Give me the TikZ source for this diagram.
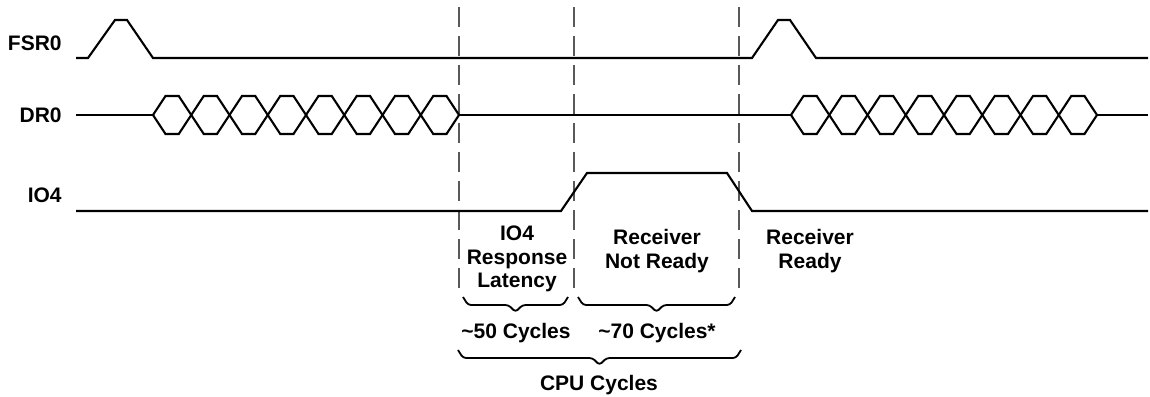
\documentclass[tikz,border=0pt]{standalone}
\usepackage{fontspec}
\setmainfont{Liberation Sans}
\usepackage{tikz}

\begin{document}
\begin{tikzpicture}[x=0.5pt, y=-0.5pt,
    sig/.style={black, line width=1.05pt, line join=miter},
    guide/.style={black!65, line width=0.55pt, dash pattern=on 10pt off 4.5pt},
    lbl/.style={font=\fontsize{10.5}{11.75}\selectfont\bfseries, inner sep=0pt, align=center}]
            % Marco
            \useasboundingbox (0,0) rectangle (1150,396);

            % Líneas guía
            \foreach \gx in {459, 574, 739}
                \draw[guide] (\gx, 7) -- (\gx, 288);

            % Señales
            % FSR0
            \draw[sig] (76, 58) -- (88, 58) -- (115, 20) -- (127, 20) -- (153, 58)
                -- (752, 58) -- (778, 20) -- (790, 20) -- (816, 58) -- (1148, 58);
            % DR0
            \draw[sig] (76, 115) -- (153, 115);
            \draw[sig] (459, 115) -- (791, 115);
            \draw[sig] (1097, 115) -- (1148, 115);
            \foreach \s in {153, 791}
                \foreach \i in {0,...,7} {
                    \pgfmathsetmacro{\xa}{\s + 38.25*\i}
                    \draw[sig] (\xa, 115) -- (\xa+12.5, 96) -- (\xa+25.75, 96) -- (\xa+38.25, 115);
                    \draw[sig] (\xa, 115) -- (\xa+12.5, 134) -- (\xa+25.75, 134) -- (\xa+38.25, 115);
                }
            % IO4
            \draw[sig] (76, 211) -- (561, 211) -- (587, 173) -- (727, 173) -- (752, 211) -- (1148, 211);

            % Nombres
            \node[lbl, anchor=east] (fsr) at (62, 43) {FSR0};
            \node[lbl, anchor=east] (dr) at (62, 115) {DR0};
            \node[lbl, anchor=east] (io) at (62, 195) {IO4};

            % Textos
            \node[lbl] (latency) at (517, 259) {IO4\\Response\\Latency};
            \node[lbl] (notready) at (657, 251) {Receiver\\Not Ready};
            \node[lbl] (ready) at (810, 251) {Receiver\\Ready};
            \node[lbl] (c50) at (516, 333) {\textasciitilde50 Cycles};
            \node[lbl] (c70) at (657, 333) {\textasciitilde70 Cycles*};
            \node[lbl] (cpu) at (599, 385) {CPU Cycles};

            % Llaves
            \foreach \xl/\xr/\yt in {463/568/297, 578/735/297, 458/741/350} {
                \pgfmathsetmacro{\xm}{(\xl+\xr)/2}
                \draw[sig, line width=0.9pt, rounded corners=1.5pt] (\xl, \yt) -- (\xl+5, \yt+8) -- (\xm-7, \yt+8)
                    -- (\xm, \yt+15) -- (\xm+7, \yt+8) -- (\xr-5, \yt+8) -- (\xr, \yt);
            }
        \end{tikzpicture}
\end{document}
